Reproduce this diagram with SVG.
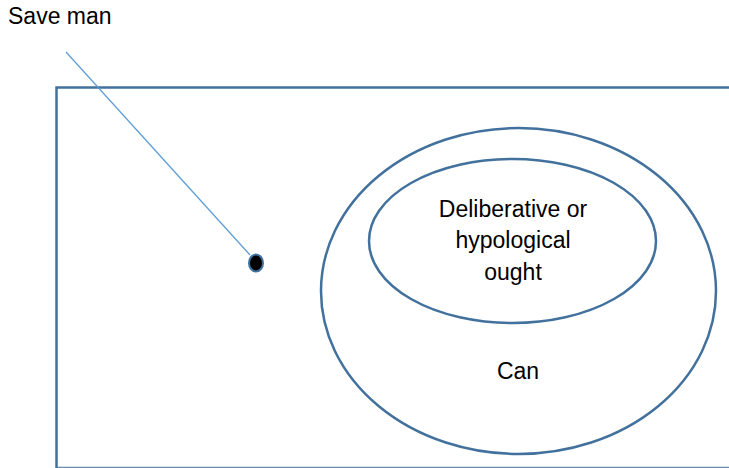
<svg xmlns="http://www.w3.org/2000/svg" width="729" height="468" viewBox="0 0 729 468">
<style>
.shape{fill:none;stroke:#41719C;stroke-width:2.5}
.lbl{font-family:"Liberation Sans",Arial,sans-serif;font-size:23px;fill:#000}
</style>
<rect width="729" height="468" fill="#fff"/>
<g id="frame">
<path class="shape" d="M56.5,468 V87.5 H732"/>
<path d="M56.5,467.5 H732" stroke="#41719C" stroke-width="1.5" fill="none" opacity="0.8"/>
</g>
<g id="connectors">
<line x1="66" y1="52" x2="250" y2="255" stroke="#5B9BD5" stroke-width="1.2"/>
</g>
<g id="save-man">
<text class="lbl" x="8" y="24">Save man</text>
</g>
<g id="dot">
<ellipse cx="256" cy="263" rx="7" ry="8.5" fill="#000" stroke="#41719C" stroke-width="2"/>
</g>
<g id="can">
<ellipse class="shape" cx="518.5" cy="291" rx="197.5" ry="163"/>
<text class="lbl" x="518" y="379" text-anchor="middle">Can</text>
</g>
<g id="ought">
<ellipse class="shape" cx="512.5" cy="241" rx="143.5" ry="82"/>
<text class="lbl" x="513" y="217" text-anchor="middle">Deliberative or</text>
<text class="lbl" x="513" y="248" text-anchor="middle">hypological</text>
<text class="lbl" x="513" y="280" text-anchor="middle">ought</text>
</g>
</svg>
